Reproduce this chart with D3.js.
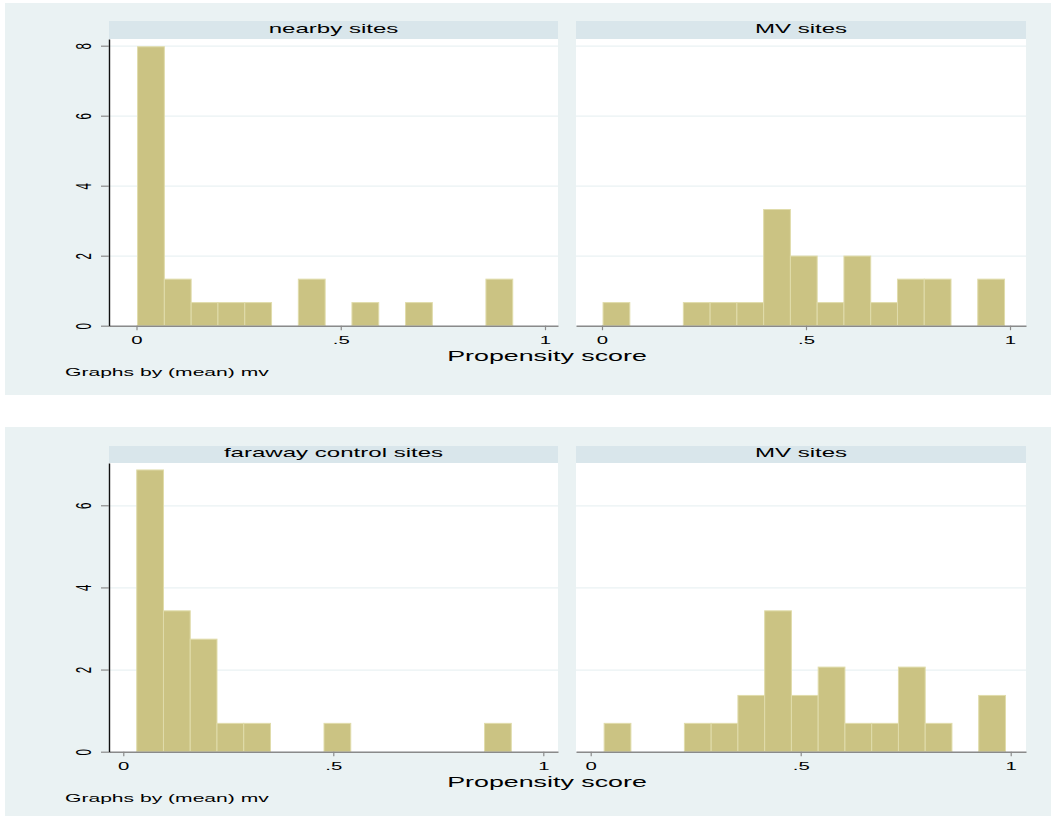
<!DOCTYPE html>
<html lang="en">
<head>
<meta charset="utf-8">
<title>Propensity score histograms</title>
<script src="https://cdn.jsdelivr.net/npm/d3@7"></script>
<style>
    body { margin: 0; background: #fff; }
    text { font-family: "Liberation Sans", Arial, sans-serif; fill: #000; }
</style>
</head>
<body>
<div class="div_d3"></div>
<script>
    const w = 1051;
    const h = 816;

    // top graph: nearby sites vs MV sites (density per bin)
    const topBinStart = 0.0026;
    const topBinWidth = 0.0656;
    const nearbyHeights = [7.97, 1.33, 0.66, 0.66, 0.66, 0, 1.33, 0, 0.66, 0, 0.66, 0, 0, 1.33];
    const mvTopHeights = [0.66, 0, 0, 0.66, 0.66, 0.66, 3.32, 1.99, 0.66, 1.99, 0.66, 1.33, 1.33, 0, 1.33];
    const topYTicks = [0, 2, 4, 6, 8];

    // bottom graph: faraway control sites vs MV sites
    const botBinStart = 0.032;
    const botBinWidth = 0.0637;
    const farawayHeights = [6.86, 3.43, 2.74, 0.69, 0.69, 0, 0, 0.69, 0, 0, 0, 0, 0, 0.69];
    const mvBotHeights = [0.69, 0, 0, 0.69, 0.69, 1.37, 3.43, 1.37, 2.06, 0.69, 0.69, 2.06, 0.69, 0, 1.37];
    const botYTicks = [0, 2, 4, 6];

    const xTicks = [0, 0.5, 1];
    const xTickLabels = ["0", ".5", "1"];
    const xTitle = "Propensity score";
    const note = "Graphs by (mean) mv";

    // text in the picture is drawn wide, so stretch it horizontally
    const SX = 1.85;

    // layout of the two graphs
    const graphs = [
        {
            bgTop: 3, bgBottom: 395, stripTop: 21, plotTop: 39, base: 325.7, pxPerUnit: 35,
            yTicks: topYTicks, binStart: topBinStart, binWidth: topBinWidth,
            panels: [
                { title: "nearby sites", heights: nearbyHeights, x0: 109, x1: 558, lo: -0.0673, hi: 1.0318 },
                { title: "MV sites", heights: mvTopHeights, x0: 576, x1: 1026, lo: -0.0637, hi: 1.0392 }
            ]
        },
        {
            bgTop: 427, bgBottom: 816, stripTop: 446, plotTop: 463, base: 751.7, pxPerUnit: 41.07,
            yTicks: botYTicks, binStart: botBinStart, binWidth: botBinWidth,
            panels: [
                { title: "faraway control sites", heights: farawayHeights, x0: 109, x1: 558, lo: -0.034, hi: 1.035 },
                { title: "MV sites", heights: mvBotHeights, x0: 576, x1: 1026, lo: -0.035, hi: 1.0364 }
            ]
        }
    ];

    let svg = d3.select('.div_d3').append('svg')
        .attr('width', w)
        .attr('height', h);

    function stretched(g, x, y, str, size, anchor, rotate) {
        return g.append("text")
            .attr("transform", "translate(" + x + "," + y + ") scale(" + SX + ",1)" + (rotate ? " rotate(-90)" : ""))
            .attr("text-anchor", anchor)
            .attr("font-size", size)
            .text(str);
    }

    graphs.forEach(function (gr) {
        // graph region
        svg.append("rect")
            .attr("x", 5).attr("y", gr.bgTop)
            .attr("width", w - 5).attr("height", gr.bgBottom - gr.bgTop)
            .attr("fill", "#eaf2f3");

        let ymax = (gr.base - gr.plotTop) / gr.pxPerUnit;
        let y = d3.scaleLinear().domain([0, ymax]).range([gr.base, gr.plotTop]);

        gr.panels.forEach(function (p, pi) {
            let x = d3.scaleLinear().domain([p.lo, p.hi]).range([p.x0, p.x1]);
            let g = svg.append("g");

            // strip
            g.append("rect")
                .attr("x", p.x0).attr("y", gr.stripTop)
                .attr("width", p.x1 - p.x0).attr("height", gr.plotTop - gr.stripTop)
                .attr("fill", "#d9e6eb");
            stretched(g, (p.x0 + p.x1) / 2, gr.plotTop - 6, p.title, 13, "middle", false);

            // plot region
            g.append("rect")
                .attr("x", p.x0).attr("y", gr.plotTop)
                .attr("width", p.x1 - p.x0).attr("height", gr.base - gr.plotTop)
                .attr("fill", "#ffffff");

            // gridlines
            let grid = g.append("g")
                .attr("transform", "translate(" + p.x0 + ",0)")
                .call(d3.axisLeft(y).tickValues(gr.yTicks.filter(function (d) { return d > 0; }))
                    .tickSize(-(p.x1 - p.x0)).tickFormat(""));
            grid.select(".domain").remove();
            grid.selectAll("line").attr("stroke", "#eaf2f3").attr("stroke-width", 1.2);

            // bars
            let bins = p.heights.map(function (v, i) {
                return { lo: gr.binStart + i * gr.binWidth, hi: gr.binStart + (i + 1) * gr.binWidth, v: v };
            }).filter(function (d) { return d.v > 0; });

            g.selectAll("rect.bar")
                .data(bins)
                .enter()
                .append("rect")
                    .attr("class", "bar")
                    .attr("x", function (d) { return x(d.lo); })
                    .attr("y", function (d) { return y(d.v); })
                    .attr("width", function (d) { return x(d.hi) - x(d.lo); })
                    .attr("height", function (d) { return gr.base - y(d.v); })
                    .attr("fill", "#cbc383")
                    .attr("stroke", "#e0dcab")
                    .attr("stroke-width", 1);

            // x axis
            let xa = g.append("g")
                .attr("transform", "translate(0," + gr.base + ")")
                .call(d3.axisBottom(x).tickValues(xTicks)
                    .tickFormat(function (d, i) { return xTickLabels[i]; })
                    .tickSize(4.5).tickSizeOuter(0));
            xa.select(".domain").attr("stroke", "#8a8a8a").attr("stroke-width", 1.6);
            xa.selectAll(".tick line").attr("stroke", "#8a8a8a").attr("stroke-width", 1.2);
            xa.selectAll(".tick text")
                .attr("y", null).attr("dy", null)
                .attr("transform", "translate(0,18) scale(" + SX + ",1)")
                .attr("font-size", 11)
                .attr("font-family", "Liberation Sans, Arial, sans-serif")
                .attr("fill", "#000");

            // y axis on the left panel only
            if (pi === 0) {
                let ya = g.append("g")
                    .attr("transform", "translate(" + p.x0 + ",0)")
                    .call(d3.axisLeft(y).tickValues(gr.yTicks).tickFormat(d3.format("d"))
                        .tickSize(8).tickSizeOuter(0));
                ya.select(".domain").attr("stroke", "#111").attr("stroke-width", 1.4);
                ya.selectAll(".tick line").attr("stroke", "#8a8a8a").attr("stroke-width", 1.2);
                ya.selectAll(".tick text")
                    .attr("x", null).attr("dy", null)
                    .attr("text-anchor", "middle")
                    .attr("transform", "translate(-18,0) scale(" + SX + ",1) rotate(-90)")
                    .attr("font-size", 11.5)
                    .attr("font-family", "Liberation Sans, Arial, sans-serif")
                    .attr("fill", "#000");
            }
        });

        // x title and note
        stretched(svg, 547, gr.base + 35.5, xTitle, 14.5, "middle", false);
        stretched(svg, 65, gr.base + 50, note, 11.4, "start", false);
    });
</script>
</body>
</html>
